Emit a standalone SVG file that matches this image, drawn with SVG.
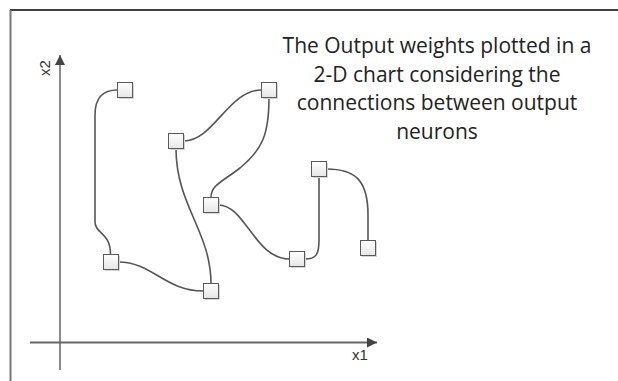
<svg xmlns="http://www.w3.org/2000/svg" width="618" height="381" viewBox="0 0 618 381">
<defs>
<linearGradient id="nodeGrad" x1="0" y1="0" x2="0" y2="1">
<stop offset="0" stop-color="#ffffff"/>
<stop offset="1" stop-color="#e6e6e6"/>
</linearGradient>
<marker id="arrowUp" viewBox="0 0 10 10" refX="10" refY="5" markerWidth="10" markerHeight="10" markerUnits="userSpaceOnUse" orient="auto">
<path d="M0,0 L10,5 L0,10 Z" fill="#444"/>
</marker>
</defs>
<style>
.node rect.box { fill: url(#nodeGrad); stroke: #5a5a5a; stroke-width: 1; }
.node rect.shadow { fill: #d6d6d6; }
.conn path { fill: none; stroke: #555; stroke-width: 1.6; }
.axis { stroke: #8c8c8c; stroke-width: 2; fill: none; }
.axisH { stroke: #666; stroke-width: 2; fill: none; }
.title { font-family: "Open Sans", "Liberation Sans", sans-serif; font-size: 21px; fill: #222; text-anchor: middle; }
.axlabel { font-family: "Liberation Sans", sans-serif; font-size: 15px; fill: #333; }
</style>
<rect x="0" y="0" width="618" height="381" fill="#ffffff"/>
<g id="frame">
<line x1="10" y1="10" x2="618" y2="10" stroke="#000" stroke-width="1.5"/>
<line x1="10.5" y1="10" x2="10.5" y2="381" stroke="#777" stroke-width="2"/>
</g>
<g id="axes">
<line class="axis" x1="60" y1="370" x2="60" y2="55" marker-end="url(#arrowUp)"/>
<line class="axisH" x1="30" y1="342.5" x2="377" y2="342.5" marker-end="url(#arrowUp)"/>
<text class="axlabel" x="352" y="360">x1</text>
<text class="axlabel" transform="translate(50,76) rotate(-90)">x2</text>
</g>
<g id="connectors" class="conn">
<path d="M117.5,90 C104,90 95,96 95,115 L95,222 C95,234 110.5,232 110.5,254.5"/>
<path d="M118.5,262 C152,262 165,291 203.5,291"/>
<path d="M176,148.5 C176,205 211,232 211,283.5"/>
<path d="M183.5,141 C214,141 228,90 261.5,90"/>
<path d="M269,97.5 C269,135 262,150 240,168 C222,182 211,185 211,197.5"/>
<path d="M218.5,205 C245,205 255,259 289.5,259"/>
<path d="M304.5,259 C316,259 319,255 319,240 L319,176.5"/>
<path d="M326.5,169 C355,169 368,180 368,215 L368,240.5"/>
</g>
<g id="nodeA" class="node"><rect class="shadow" x="119" y="84" width="15" height="15"/><rect class="box" x="117.5" y="82.5" width="15" height="15"/></g>
<g id="nodeB" class="node"><rect class="shadow" x="170" y="135" width="15" height="15"/><rect class="box" x="168.5" y="133.5" width="15" height="15"/></g>
<g id="nodeC" class="node"><rect class="shadow" x="263" y="84" width="15" height="15"/><rect class="box" x="261.5" y="82.5" width="15" height="15"/></g>
<g id="nodeD" class="node"><rect class="shadow" x="205" y="199" width="15" height="15"/><rect class="box" x="203.5" y="197.5" width="15" height="15"/></g>
<g id="nodeE" class="node"><rect class="shadow" x="105" y="256" width="15" height="15"/><rect class="box" x="103.5" y="254.5" width="15" height="15"/></g>
<g id="nodeF" class="node"><rect class="shadow" x="205" y="285" width="15" height="15"/><rect class="box" x="203.5" y="283.5" width="15" height="15"/></g>
<g id="nodeG" class="node"><rect class="shadow" x="291" y="253" width="15" height="15"/><rect class="box" x="289.5" y="251.5" width="15" height="15"/></g>
<g id="nodeH" class="node"><rect class="shadow" x="313" y="163" width="15" height="15"/><rect class="box" x="311.5" y="161.5" width="15" height="15"/></g>
<g id="nodeI" class="node"><rect class="shadow" x="362" y="242" width="15" height="15"/><rect class="box" x="360.5" y="240.5" width="15" height="15"/></g>
<g id="caption">
<text class="title" x="437" y="53">The Output weights plotted in a</text>
<text class="title" x="437" y="82">2-D chart considering the</text>
<text class="title" x="437" y="110">connections between output</text>
<text class="title" x="437" y="139">neurons</text>
</g>
</svg>
